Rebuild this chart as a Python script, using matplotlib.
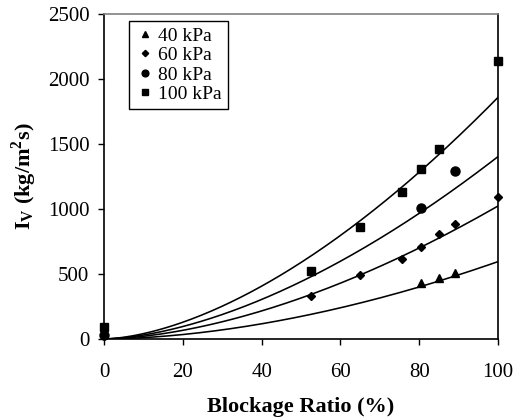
import numpy as np
import matplotlib
matplotlib.use('Agg')
import matplotlib.pyplot as plt

plt.rcParams.update({
    'font.family': 'Liberation Serif',
    'font.size': 14,
    'mathtext.fontset': 'custom',
    'mathtext.rm': 'Liberation Serif',
    'mathtext.bf': 'Liberation Serif:bold',
})

# Measured points
x_40 = [80.5, 85, 89]
y_40 = [430, 470, 510]

x_60 = [0, 52.5, 65, 75.5, 80.5, 85, 89, 100]
y_60 = [25, 330, 492, 615, 708, 808, 885, 1092]

x_80 = [0, 80.5, 89]
y_80 = [30, 1010, 1295]

x_100 = [0, 52.5, 65, 75.5, 80.5, 85, 100]
y_100 = [90, 520, 865, 1130, 1305, 1465, 2135]

labels = ['40 kPa', '60 kPa', '80 kPa', '100 kPa']

# Power-law trend lines, y = a * x^b (value at x=100, exponent)
fit_end = [595, 1023, 1403, 1859]
fit_exp = [1.78, 1.70, 1.67, 1.66]

fig = plt.figure(figsize=(5.14, 4.2), dpi=100)
ax = fig.add_axes([0.2023, 0.193, 0.7667, 0.7737])

xs = np.linspace(0, 100, 200)
for y1, b in zip(fit_end, fit_exp):
    ax.plot(xs, y1 * (xs / 100.0) ** b, color='black', lw=1.15)

ax.plot(x_40, y_40, ls='none', marker='^', ms=6.2, color='black',
        label=labels[0], clip_on=False)
ax.plot(x_60, y_60, ls='none', marker='D', ms=4.3, color='black',
        label=labels[1], clip_on=False)
ax.plot(x_80, y_80, ls='none', marker='o', ms=6.5, color='black',
        label=labels[2], clip_on=False)
ax.plot(x_100, y_100, ls='none', marker='s', ms=5.6, color='black',
        label=labels[3], clip_on=False)

ax.set_xlim(0, 100)
ax.set_ylim(0, 2500)
ax.set_xticks(np.arange(0, 101, 20))
ax.set_yticks(np.arange(0, 2501, 500))
ax.tick_params(direction='out', length=4.5, width=1, labelsize=15)
ax.tick_params(axis='x', pad=13)
ax.tick_params(axis='y', pad=6)

for s in ['left', 'bottom', 'right']:
    ax.spines[s].set_linewidth(1.2)
    ax.spines[s].set_color('black')
ax.spines['top'].set_color('#808080')
ax.spines['top'].set_linewidth(1.2)

ax.set_xlabel('Blockage Ratio (%)', fontweight='bold', fontsize=16, labelpad=10.5)
ax.set_ylabel(r'$\mathbf{I_V}$ (kg/m$^\mathbf{2}$s)', fontweight='bold',
              fontsize=16, labelpad=6)

leg = ax.legend(loc='upper left', bbox_to_anchor=(0.0635, 0.978),
                borderaxespad=0, fancybox=False, edgecolor='black',
                framealpha=1, markerscale=0.75, handlelength=1.0,
                handletextpad=0.2, borderpad=0.3, labelspacing=0.1,
                fontsize=14)
leg.get_frame().set_linewidth(1.0)

fig.savefig('out.png', dpi=100)
